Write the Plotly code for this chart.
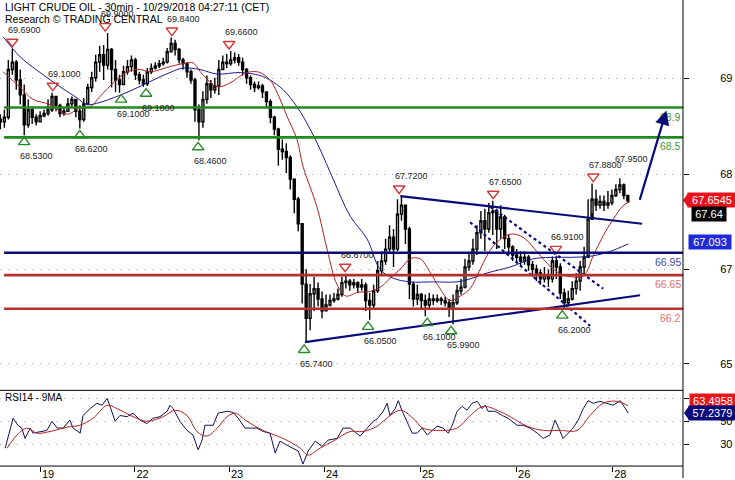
import plotly.graph_objects as go

W, H = 735, 480
FONT = "Liberation Sans, Arial, sans-serif"

# ---------------- data ----------------
title_line1 = "LIGHT CRUDE OIL - 30min - 10/29/2018 04:27:11 (CET)"
title_line2 = "Research © TRADING CENTRAL"

first_open = 68.74
close = [68.71, 68.77, 69.41, 69.51, 69.27, 69.07, 68.67, 68.87, 68.77, 68.71,
         68.79, 68.82, 68.87, 69.05, 68.93, 68.82, 68.85, 68.95, 69.01, 68.85,
         68.74, 68.95, 69.17, 69.30, 69.51, 69.61, 69.47, 69.68, 69.41, 69.27,
         69.21, 69.38, 69.45, 69.54, 69.34, 69.27, 69.22, 69.38, 69.43, 69.46,
         69.49, 69.51, 69.65, 69.76, 69.68, 69.54, 69.49, 69.38, 69.27, 68.87,
         68.71, 69.01, 69.22, 69.14, 69.19, 69.41, 69.51, 69.49, 69.54, 69.57,
         69.51, 69.41, 69.30, 69.21, 69.17, 69.19, 69.11, 68.98, 68.77, 68.61,
         68.34, 68.31, 68.23, 67.94, 67.67, 67.34, 66.53, 66.07, 66.40, 66.47,
         66.33, 66.17, 66.25, 66.31, 66.33, 66.39, 66.55, 66.57, 66.52, 66.55,
         66.49, 66.52, 66.31, 66.25, 66.44, 66.71, 66.84, 67.00, 67.16, 67.00,
         67.47, 67.59, 67.27, 66.53, 66.33, 66.39, 66.31, 66.25, 66.33, 66.31,
         66.33, 66.31, 66.28, 66.20, 66.28, 66.44, 66.49, 66.76, 66.84, 67.00,
         67.22, 67.38, 67.27, 67.49, 67.51, 67.27, 67.43, 67.14, 67.03, 66.92,
         66.89, 66.84, 66.89, 66.79, 66.73, 66.68, 66.60, 66.65, 66.60, 66.84,
         66.76, 66.41, 66.28, 66.33, 66.47, 66.57, 66.76, 66.89, 67.40, 67.67,
         67.59, 67.64, 67.59, 67.62, 67.72, 67.80, 67.86, 67.72, 67.65]
high = [68.81, 68.87, 69.54, 69.69, 69.54, 69.41, 69.21, 69.01, 68.91, 68.81,
        68.85, 68.87, 69.01, 69.10, 69.06, 68.95, 68.90, 69.03, 69.05, 69.01,
        68.93, 69.03, 69.22, 69.38, 69.61, 69.73, 69.74, 69.90, 69.70, 69.54,
        69.34, 69.46, 69.54, 69.60, 69.57, 69.38, 69.34, 69.43, 69.49, 69.51,
        69.54, 69.57, 69.70, 69.84, 69.81, 69.70, 69.57, 69.51, 69.41, 69.30,
        68.94, 69.12, 69.33, 69.27, 69.30, 69.54, 69.60, 69.62, 69.66, 69.64,
        69.62, 69.57, 69.43, 69.33, 69.25, 69.25, 69.22, 69.11, 69.01, 68.79,
        68.63, 68.47, 68.42, 68.26, 67.94, 67.70, 67.34, 66.73, 66.53, 66.63,
        66.55, 66.43, 66.39, 66.39, 66.41, 66.47, 66.63, 66.67, 66.60, 66.60,
        66.57, 66.60, 66.55, 66.41, 66.52, 66.84, 66.97, 67.14, 67.32, 67.27,
        67.67, 67.72, 67.60, 67.30, 66.56, 66.52, 66.41, 66.39, 66.41, 66.39,
        66.39, 66.36, 66.36, 66.33, 66.39, 66.52, 66.60, 66.87, 66.95, 67.14,
        67.32, 67.51, 67.54, 67.62, 67.65, 67.54, 67.59, 67.46, 67.19, 67.05,
        67.00, 66.97, 66.97, 66.92, 66.84, 66.79, 66.73, 66.76, 66.73, 66.90,
        66.91, 66.81, 66.47, 66.44, 66.57, 66.68, 66.84, 67.03, 67.67, 67.88,
        67.80, 67.72, 67.72, 67.78, 67.80, 67.87, 67.95, 67.88, 67.72]
low = [68.61, 68.63, 68.74, 69.34, 69.14, 68.94, 68.53, 68.63, 68.68, 68.66,
       68.71, 68.77, 68.79, 68.84, 68.85, 68.77, 68.79, 68.85, 68.90, 68.77,
       68.62, 68.71, 68.93, 69.11, 69.25, 69.38, 69.27, 69.41, 69.17, 69.11,
       69.10, 69.21, 69.34, 69.38, 69.27, 69.21, 69.18, 69.19, 69.35, 69.41,
       69.43, 69.46, 69.49, 69.65, 69.60, 69.49, 69.41, 69.30, 69.22, 68.71,
       68.46, 68.63, 68.95, 69.03, 69.09, 69.07, 69.41, 69.43, 69.46, 69.49,
       69.46, 69.33, 69.22, 69.14, 69.11, 69.14, 69.03, 68.90, 68.69, 68.53,
       68.12, 68.20, 68.02, 67.80, 67.48, 67.24, 66.27, 65.74, 65.91, 66.17,
       66.23, 66.07, 66.17, 66.23, 66.28, 66.31, 66.36, 66.47, 66.44, 66.47,
       66.41, 66.44, 66.17, 66.05, 66.20, 66.41, 66.65, 66.79, 66.95, 66.76,
       66.97, 67.38, 67.07, 66.33, 66.23, 66.25, 66.20, 66.10, 66.20, 66.25,
       66.28, 66.25, 66.23, 66.09, 65.99, 66.25, 66.39, 66.47, 66.71, 66.79,
       66.92, 67.14, 66.97, 67.22, 67.19, 67.00, 67.14, 67.00, 66.92, 66.84,
       66.81, 66.76, 66.79, 66.71, 66.63, 66.57, 66.52, 66.55, 66.49, 66.55,
       66.60, 66.33, 66.20, 66.23, 66.31, 66.39, 66.44, 66.65, 66.92, 67.48,
       67.51, 67.54, 67.51, 67.54, 67.59, 67.70, 67.75, 67.67, 67.62]
bars = list(range(len(close)))
opens = [first_open] + close[:-1]

# moving averages (bar index, price)
ma_fast_x = [0.7, 5, 8.2, 12.5, 16.8, 20, 22.6, 25.1, 28.4, 31.9, 35.2, 37.7, 42.7, 47,
             48.5, 51, 54.6, 57.8, 60.9, 62.9, 65.4, 67.9, 69.7, 72.2, 74.7, 76.2, 79.7,
             82.3, 84.8, 87, 90, 93.1, 96, 98.5, 100.7, 103.2, 105.7, 108.2, 110.7, 113.2,
             115.8, 118.3, 120.8, 124.1, 128.4, 131.6, 135.2, 138.4, 141, 143.5, 146.8,
             149.3, 151.8, 154.3, 156.8, 158.6]
ma_fast_v = [69.38, 69.17, 69.01, 68.94, 68.81, 68.90, 68.91, 69.05, 69.23, 69.38, 69.41,
             69.38, 69.45, 69.50, 69.50, 69.34, 69.18, 69.23, 69.34, 69.38, 69.37, 69.27,
             69.10, 68.78, 68.47, 68.11, 67.57, 66.99, 66.52, 66.37, 66.42, 66.43, 66.50,
             66.63, 66.73, 66.87, 66.87, 66.69, 66.47, 66.31, 66.37, 66.47, 66.73, 67.04,
             67.20, 67.16, 66.96, 66.77, 66.67, 66.63, 66.64, 66.91, 67.18, 67.40, 67.58,
             67.64]
ma_slow_x = [0.7, 5, 10, 15, 19.3, 21.8, 25.1, 29.4, 33.4, 37.7, 42.7, 46, 50.3, 54.6,
             60.4, 65.4, 67.9, 71.2, 74.7, 78, 80.5, 83.8, 88.1, 92.3, 95.6, 98.9, 103.2,
             109, 115, 118.3, 122.6, 128.4, 134.2, 140.2, 144.2, 149.3, 153.6, 158.1]
ma_slow_v = [69.85, 69.58, 69.37, 69.18, 69.03, 68.94, 68.97, 69.05, 69.14, 69.25, 69.37,
             69.43, 69.41, 69.35, 69.37, 69.33, 69.27, 69.14, 68.91, 68.61, 68.34, 67.94,
             67.44, 67.14, 66.73, 66.61, 66.56, 66.56, 66.56, 66.60, 66.68, 66.76, 66.87,
             66.89, 66.89, 66.91, 66.97, 67.07]

day_pos = [10, 33.8, 57.6, 81.5, 105.7, 129.9, 154.1]
day_labels = ["19", "22", "23", "24", "25", "26", "28"]

price_tick_vals = [69.29, 68.0, 66.73, 65.46]
price_tick_text = ["69", "68", "67", "65"]

levels = [68.9, 68.5, 66.95, 66.65, 66.2]
level_text = ["68.9", "68.5", "66.95", "66.65", "66.2"]

peak_x = [3, 26.4, 13.2, 43.2, 57.6, 86.8, 100.4, 124.1, 139.9, 149.3]
peak_v = [69.69, 69.90, 69.10, 69.84, 69.66, 66.67, 67.72, 67.65, 66.91, 67.88]
extra_peak_x = [156]
extra_peak_v = [67.95]
trough_x = [6, 20, 30.4, 36.7, 49.8, 76.5, 92.6, 107.5, 113.5, 141.5]
trough_v = [68.53, 68.62, 69.10, 69.18, 68.46, 65.74, 66.05, 66.10, 65.99, 66.20]

support_x = [76.7, 161.1]
support_v = [65.75, 66.38]
resist_x = [100.7, 161.6]
resist_v = [67.71, 67.34]
chan_up_x = [123.3, 151.8]
chan_up_v = [67.57, 66.47]
chan_lo_x = [118.3, 148.5]
chan_lo_v = [67.36, 65.97]
target_from = (160.9, 67.64)
target_to = (167.7, 68.86)

rsi_x = [1.2, 3.2, 4.4, 5.4, 6.2, 7.5, 8.2, 10.0, 11.7, 13.0, 14.3, 15.8, 17.5, 18.3, 20.1,
         20.8, 22.6, 24.3, 25.6, 26.9, 28.1, 28.9, 30.1, 31.9, 33.4, 35.2, 36.9, 38.4, 40.2,
         42.0, 42.7, 43.5, 45.2, 47.0, 48.5, 49.8, 50.8, 51.5, 52.3, 53.6, 54.8, 57.1, 58.6,
         59.9, 61.6, 62.9, 64.6, 66.2, 67.9, 69.2, 70.4, 72.2, 73.7, 75.0, 76.2, 77.5, 79.3,
         81.0, 82.5, 84.8, 86.3, 88.1, 90.6, 92.3, 93.9, 94.9, 96.4, 97.4, 98.1, 99.4, 100.2,
         101.2, 102.4, 103.7, 104.9, 106.2, 107.5, 108.7, 110.0, 111.5, 112.8, 113.8, 115.0,
         116.3, 117.5, 118.8, 120.1, 121.3, 122.1, 122.8, 124.6, 126.4, 127.9, 130.1, 131.6,
         133.4, 135.2, 136.7, 138.4, 139.7, 140.5, 141.7, 143.0, 144.2, 145.5, 146.8, 148.0,
         149.3, 151.0, 152.8, 154.3, 156.1, 156.8, 158.1]
rsi_v = [26.5, 52.6, 46.5, 44, 35, 44, 39.6, 41, 42, 50, 44, 44, 51, 44, 39.6, 55, 61, 65.7,
         64, 70, 58.7, 50, 55, 54, 57, 51, 48, 52.6, 54, 58.7, 64, 61, 50, 42, 38, 25, 33.5,
         46.5, 46.5, 46.5, 57, 58.7, 57.8, 52.6, 44, 44, 44, 41, 39.6, 22.2, 32.6, 29, 26.5,
         24, 12.6, 24, 32.6, 28, 33.5, 35, 44, 44, 37, 44, 50, 52, 58.7, 65.7, 55, 61, 68,
         58.7, 50, 39.6, 39.6, 44, 38, 42, 45.7, 44, 39.6, 46.5, 58.7, 63, 59.6, 65.7, 67.4,
         61, 64, 58.7, 58.7, 55, 52.6, 46.5, 46.5, 44, 39.6, 35, 38, 51, 44, 35, 39.6, 44,
         51, 61, 68, 65.7, 67.4, 65.7, 64, 68, 64, 57.2]
rsi_ma_x = [1.7, 4.2, 6.7, 9.2, 12.5, 16.8, 20, 23.3, 26.9, 29.4, 33.4, 36.9, 41, 44, 47,
            49.5, 52, 54.6, 57.1, 59.1, 62.1, 66.1, 71.2, 75.5, 77.5, 80.5, 83.8, 88.1, 91.3,
            94.9, 96.4, 100.7, 103.9, 106.4, 110, 115, 118.3, 121.6, 125.1, 128.4, 132.6,
            136.7, 141, 145.2, 148.5, 151.8, 155.3, 158.1]
rsi_ma_v = [26.5, 38, 44, 39.6, 41, 44.8, 46.5, 52.6, 64, 61, 54, 50, 54, 59.6, 55, 41, 37,
            44, 54, 57, 50, 42, 35, 26.5, 20.4, 26.5, 32.6, 41, 41, 45.7, 50, 59.6, 52.6, 44,
            42, 44, 55, 63, 59.6, 54, 45.7, 42, 42, 42, 55, 65.7, 67.4, 63.5]
rsi_tick_vals = [30, 50, 70]
rsi_tick_text = ["30", "50", ""]   # the 70 label is hidden under the value tag

last_price = 67.6545
last_bid = 67.64
slow_ma_last = 67.093
rsi_last = 57.2379
rsi_ma_last = 63.4958

# ---------------- layout geometry ----------------
X_END = 683 / W
Y_MAIN = [1 - 388 / H, 1.0]
Y_RSI = [12 / H, 88 / H]
Y_MAIN_RANGE = [65.157, 70.344]
RSI_RANGE = [10.87, 76.96]
X_RANGE = [-0.1, 171.9]
px_per_unit = (Y_MAIN[1] - Y_MAIN[0]) * H / (Y_MAIN_RANGE[1] - Y_MAIN_RANGE[0])
tri_off = 7 / px_per_unit

NAVY = "#0a0a78"
GREEN = "#1f8a1f"
RED = "#b3302c"

fig = go.Figure()

fig.add_trace(go.Candlestick(
    x=bars, open=opens, high=high, low=low, close=close,
    increasing=dict(line=dict(color="black", width=1.4), fillcolor="white"),
    decreasing=dict(line=dict(color="black", width=1.4), fillcolor="black"),
    whiskerwidth=0, showlegend=False, hoverinfo="skip", xaxis="x", yaxis="y"))

fig.add_trace(go.Scatter(x=ma_slow_x, y=ma_slow_v, mode="lines", xaxis="x", yaxis="y",
                         line=dict(color="#1a1a90", width=1, shape="spline"), showlegend=False))
fig.add_trace(go.Scatter(x=ma_fast_x, y=ma_fast_v, mode="lines", xaxis="x", yaxis="y",
                         line=dict(color="#b22222", width=1, shape="spline"), showlegend=False))

for xs, vs, dash in [(support_x, support_v, "solid"), (resist_x, resist_v, "solid"),
                     (chan_up_x, chan_up_v, "dot"), (chan_lo_x, chan_lo_v, "dot")]:
    fig.add_trace(go.Scatter(x=xs, y=vs, mode="lines", xaxis="x", yaxis="y",
                             line=dict(color=NAVY, width=2.2, dash=dash), showlegend=False))

# swing markers
fig.add_trace(go.Scatter(x=peak_x, y=[v + tri_off for v in peak_v], mode="markers",
                         xaxis="x", yaxis="y", showlegend=False,
                         marker=dict(symbol="triangle-down-open", size=10, color="#d23a3a",
                                     line=dict(width=1.4, color="#d23a3a"))))
fig.add_trace(go.Scatter(x=trough_x, y=[v - tri_off for v in trough_v], mode="markers",
                         xaxis="x", yaxis="y", showlegend=False,
                         marker=dict(symbol="triangle-up-open", size=10, color="#2a8a2a",
                                     line=dict(width=1.4, color="#2a8a2a"))))

# RSI
fig.add_trace(go.Scatter(x=rsi_x, y=rsi_v, mode="lines", xaxis="x2", yaxis="y2",
                         line=dict(color="#10105a", width=1), showlegend=False))
fig.add_trace(go.Scatter(x=rsi_ma_x, y=rsi_ma_v, mode="lines", xaxis="x2", yaxis="y2",
                         line=dict(color="#b22222", width=1, shape="spline"), showlegend=False))

annotations = []
shapes = []

# titles
annotations.append(dict(text=title_line1, xref="paper", yref="paper", x=3 / W, y=1 - 7 / H,
                        xanchor="left", yanchor="middle", showarrow=False,
                        font=dict(family=FONT, size=10.5, color="black")))
annotations.append(dict(text=title_line2, xref="paper", yref="paper", x=3 / W, y=1 - 19 / H,
                        xanchor="left", yanchor="middle", showarrow=False,
                        font=dict(family=FONT, size=10.5, color="black")))
annotations.append(dict(text="RSI14 - 9MA", xref="paper", yref="paper", x=3 / W, y=1 - 399 / H,
                        xanchor="left", yanchor="middle", showarrow=False,
                        font=dict(family=FONT, size=10, color="black")))

# swing labels
for xv, v in zip(peak_x + extra_peak_x, peak_v + extra_peak_v):
    annotations.append(dict(text=f"{v:.4f}", x=xv, y=v, xref="x", yref="y", showarrow=False,
                            xanchor="center", yanchor="middle", xshift=12, yshift=19,
                            font=dict(family=FONT, size=9, color="#222222")))
for xv, v in zip(trough_x, trough_v):
    annotations.append(dict(text=f"{v:.4f}", x=xv, y=v, xref="x", yref="y", showarrow=False,
                            xanchor="center", yanchor="middle", xshift=12, yshift=-21,
                            font=dict(family=FONT, size=9, color="#222222")))

# horizontal levels
level_line_colors = [GREEN, GREEN, NAVY, RED, RED]
level_label_colors = ["#3a9a3a", "#3a9a3a", "#4848b0", "#e07070", "#e07070"]
for lv, txt, lc, tc in zip(levels, level_text, level_line_colors, level_label_colors):
    shapes.append(dict(type="line", xref="x domain", yref="y", x0=0.006, x1=1, y0=lv, y1=lv,
                       line=dict(color=lc, width=2.6)))
    annotations.append(dict(text=txt, xref="paper", yref="y", x=X_END, y=lv, xanchor="right",
                            yanchor="top", yshift=-1, showarrow=False,
                            font=dict(family=FONT, size=10.5, color=tc)))

# target arrow
annotations.append(dict(x=target_to[0], y=target_to[1], ax=target_from[0], ay=target_from[1],
                        xref="x", yref="y", axref="x", ayref="y", text="", showarrow=True,
                        arrowhead=2, arrowsize=1.3, arrowwidth=2.2, arrowcolor=NAVY))

# right-hand value tags
def tag(value, yref, text, bg, x_left, width, yshift=0, pointer=False):
    annotations.append(dict(text=text, xref="paper", yref=yref, x=x_left / W, y=value,
                            xanchor="left", yanchor="middle", yshift=yshift, showarrow=False,
                            bgcolor=bg, width=width, height=12, borderpad=1, align="center",
                            font=dict(family=FONT, size=11, color="white")))
    if pointer:
        shapes.append(dict(type="path", xref="paper", yref=yref, xsizemode="pixel",
                           ysizemode="pixel", xanchor=x_left / W, yanchor=value,
                           path=f"M -4,{yshift} L 1,{yshift + 7} L 1,{yshift - 7} Z",
                           fillcolor=bg, line=dict(width=0)))

tag(last_price, "y", f"{last_price:.4f}", "#e8141c", 687, 46, pointer=True)
tag(last_bid, "y", f"{last_bid:.2f}", "black", 691, 32, yshift=-13)
tag(slow_ma_last, "y", f"{slow_ma_last:.3f}", "#1f2ad8", 688, 40)
tag(rsi_ma_last, "y2", f"{rsi_ma_last:.4f}", "#e8141c", 689, 44, yshift=5)
tag(rsi_last, "y2", f"{rsi_last:.4f}", "#0a0a78", 688, 45, pointer=True)

# frame lines
shapes.append(dict(type="line", xref="paper", yref="paper", x0=X_END, x1=X_END, y0=0, y1=1,
                   line=dict(color="black", width=1)))
for yy in (392, 468):
    shapes.append(dict(type="line", xref="paper", yref="paper", x0=0, x1=X_END,
                       y0=1 - yy / H, y1=1 - yy / H, line=dict(color="black", width=1)))

fig.update_layout(
    width=W, height=H, margin=dict(l=0, r=0, t=0, b=0),
    paper_bgcolor="white", plot_bgcolor="white", showlegend=False,
    font=dict(family=FONT, size=11, color="black"),
    xaxis=dict(domain=[0, X_END], range=X_RANGE, anchor="y", showticklabels=False,
               showgrid=False, zeroline=False, rangeslider=dict(visible=False), ticks=""),
    yaxis=dict(domain=Y_MAIN, range=Y_MAIN_RANGE, side="right", anchor="x",
               tickvals=price_tick_vals, ticktext=price_tick_text, ticks="outside", ticklen=5,
               tickcolor="black", showgrid=True, gridcolor="#aaaaaa", griddash="1px,7px",
               zeroline=False, ticklabelstandoff=29, tickfont=dict(size=11)),
    xaxis2=dict(domain=[0, X_END], range=X_RANGE, anchor="y2", matches="x",
                tickvals=day_pos, ticktext=day_labels, ticks="outside", ticklen=5,
                tickcolor="black", showgrid=False, zeroline=False,
                ticklabelshift=8, ticklabelstandoff=-7, tickfont=dict(size=11)),
    yaxis2=dict(domain=Y_RSI, range=RSI_RANGE, side="right", anchor="x2",
                tickvals=rsi_tick_vals, ticktext=rsi_tick_text, ticks="outside", ticklen=5,
                tickcolor="black", showgrid=True, gridcolor="#aaaaaa", griddash="1px,7px",
                zeroline=False, ticklabelstandoff=29, tickfont=dict(size=11)),
    annotations=annotations, shapes=shapes,
)

fig.write_html("out.html", config={"displayModeBar": False},
               post_script="document.body.style.margin='0';document.body.style.overflow='hidden';")
